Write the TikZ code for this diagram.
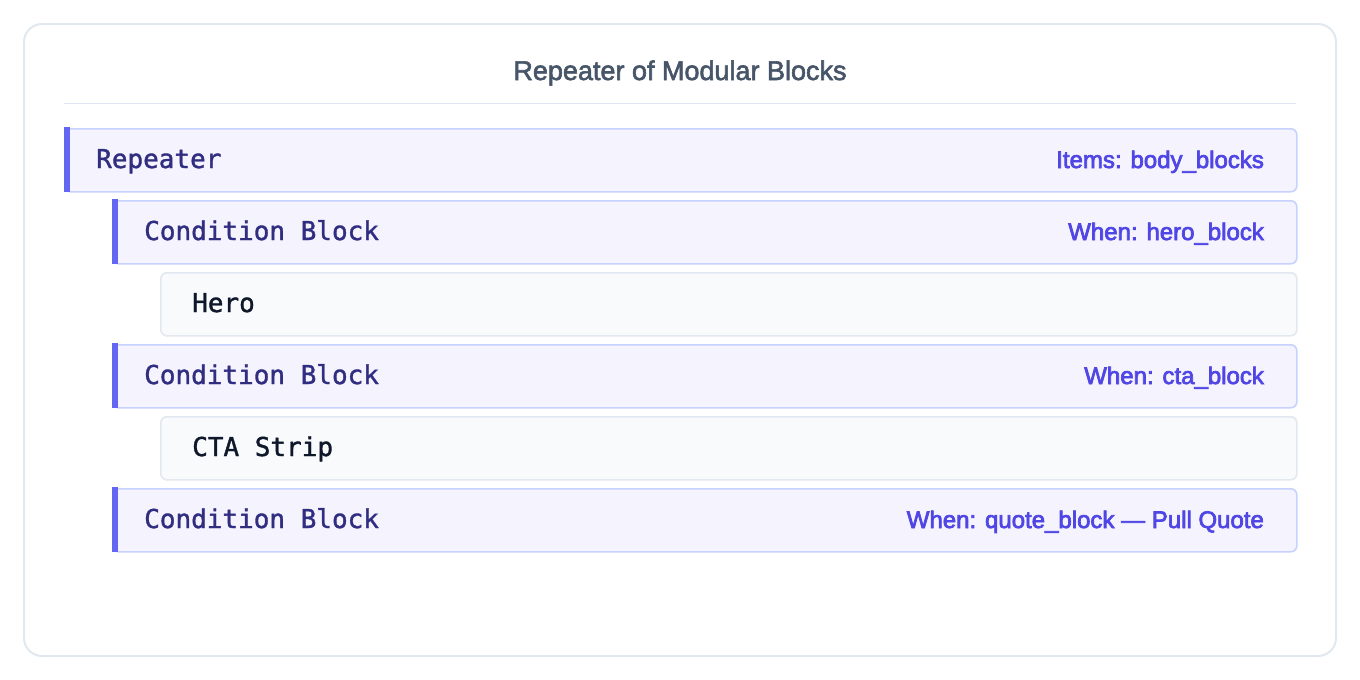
\documentclass[tikz,border=0pt]{standalone}
\usepackage{fontspec}
\setmainfont{Liberation Sans}
\newfontfamily\medsans{Liberation Sans}
\newfontfamily\codefont{DejaVu Sans Mono}
\newcommand{\heavier}[2]{\special{pdf:literal direct 2 Tr #1 w}#2\special{pdf:literal direct 0 Tr}}
\definecolor{framec}{HTML}{E2E8F0}
\definecolor{sepc}{HTML}{E0E4F2}
\definecolor{titlec}{HTML}{475569}
\definecolor{condfill}{HTML}{F4F3FE}
\definecolor{conddraw}{HTML}{C7D2FE}
\definecolor{barc}{HTML}{6366F1}
\definecolor{condtext}{HTML}{312E81}
\definecolor{labelc}{HTML}{4F46E5}
\definecolor{leaffill}{HTML}{F8FAFC}
\definecolor{leafdraw}{HTML}{E2E8F0}
\definecolor{leaftext}{HTML}{0F172A}
\begin{document}
\begin{tikzpicture}[x=1pt,y=-1pt,
  framebox/.style={draw=framec,line width=2pt,rounded corners=18pt,fill=white},
  titletext/.style={text=titlec,font=\medsans\fontsize{27}{32}\selectfont,inner sep=0pt,anchor=base},
  condbox/.style={draw=conddraw,fill=condfill,line width=1.6pt,rounded corners=6pt,
    minimum height=63pt,anchor=north west,inner sep=0pt},
  leafbox/.style={draw=leafdraw,fill=leaffill,line width=1.6pt,rounded corners=6pt,
    minimum height=63pt,anchor=north west,inner sep=0pt},
  bar/.style={fill=barc,draw=none},
  condlabel/.style={text=condtext,font=\codefont\fontsize{26}{30}\selectfont,anchor=base west,inner sep=0pt},
  leaflabel/.style={text=leaftext,font=\codefont\fontsize{26}{30}\selectfont,anchor=base west,inner sep=0pt},
  sidelabel/.style={text=labelc,font=\medsans\fontsize{24}{28}\selectfont,anchor=base east,inner sep=0pt}
]
\useasboundingbox (0,0) rectangle (1360,680);
\fill[white] (0,0) rectangle (1360,680);
\draw[framebox] (24,24) rectangle (1336,656);
\node[titletext] (title) at (680,80) {\heavier{0.6}{Repeater of Modular Blocks}};
\draw[sepc,line width=1.5pt] (64,103.5) -- (1296,103.5);

% Repeater
\node[condbox,minimum width=1232pt] (rep) at (64,128) {};
\fill[bar] (63.5,127.2) rectangle (70,191.8);
\node[condlabel] (replbl) at ([xshift=32pt,yshift=-40pt]rep.north west) {\heavier{0.35}{Repeater}};
\node[sidelabel] (repside) at ([xshift=-33.5pt,yshift=-40pt]rep.north east) {\heavier{0.7}{Items: body\_blocks}};

% Condition 1
\node[condbox,minimum width=1184pt] (c1) at (112,200) {};
\fill[bar] (111.5,199.2) rectangle (118,263.8);
\node[condlabel] (c1lbl) at ([xshift=32pt,yshift=-40pt]c1.north west) {\heavier{0.35}{Condition Block}};
\node[sidelabel] (c1side) at ([xshift=-33.5pt,yshift=-40pt]c1.north east) {\heavier{0.7}{When: hero\_block}};

% Hero
\node[leafbox,minimum width=1136pt] (hero) at (160,272) {};
\node[leaflabel] (herolbl) at ([xshift=32pt,yshift=-40pt]hero.north west) {\heavier{0.35}{Hero}};

% Condition 2
\node[condbox,minimum width=1184pt] (c2) at (112,344) {};
\fill[bar] (111.5,343.2) rectangle (118,407.8);
\node[condlabel] (c2lbl) at ([xshift=32pt,yshift=-40pt]c2.north west) {\heavier{0.35}{Condition Block}};
\node[sidelabel] (c2side) at ([xshift=-33.5pt,yshift=-40pt]c2.north east) {\heavier{0.7}{When: cta\_block}};

% CTA Strip
\node[leafbox,minimum width=1136pt] (cta) at (160,416) {};
\node[leaflabel] (ctalbl) at ([xshift=32pt,yshift=-40pt]cta.north west) {\heavier{0.35}{CTA Strip}};

% Condition 3
\node[condbox,minimum width=1184pt] (c3) at (112,488) {};
\fill[bar] (111.5,487.2) rectangle (118,551.8);
\node[condlabel] (c3lbl) at ([xshift=32pt,yshift=-40pt]c3.north west) {\heavier{0.35}{Condition Block}};
\node[sidelabel] (c3side) at ([xshift=-33.5pt,yshift=-40pt]c3.north east) {\heavier{0.7}{When: quote\_block — Pull Quote}};
\end{tikzpicture}
\end{document}
